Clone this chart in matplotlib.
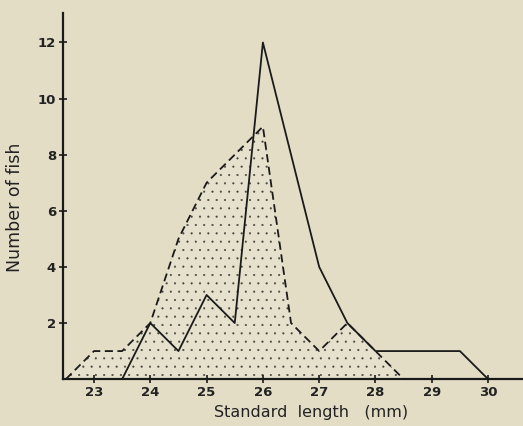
import matplotlib
matplotlib.use("Agg")
import matplotlib.pyplot as plt

# Data
len_dashed = [22.5, 23.0, 23.5, 24.0, 24.5, 25.0, 25.5, 26.0, 26.5, 27.0, 27.5, 28.0, 28.5]
cnt_dashed = [0, 1, 1, 2, 5, 7, 8, 9, 2, 1, 2, 1, 0]

len_solid = [23.5, 24.0, 24.5, 25.0, 25.5, 26.0, 27.0, 27.5, 28.0, 29.0, 29.5, 30.0]
cnt_solid = [0, 2, 1, 3, 2, 12, 4, 2, 1, 1, 1, 0]

x_ticks = [23, 24, 25, 26, 27, 28, 29, 30]
y_ticks = [2, 4, 6, 8, 10, 12]

bg = "#e3ddc6"
ink = "#1a1a1a"

plt.rcParams['hatch.linewidth'] = 0.3
plt.rcParams['hatch.color'] = "#4a463e"

fig = plt.figure(figsize=(5.23, 4.26), dpi=100, facecolor=bg)
ax = fig.add_axes([0.1205, 0.110, 0.8795, 0.8595], facecolor=bg)

ax.fill_between(len_dashed, cnt_dashed, 0, facecolor="#e6e1cc", edgecolor="#4a463e",
                hatch="..", linewidth=0, zorder=1)
ax.plot(len_dashed, cnt_dashed, color=ink, lw=1.3, ls=(0, (4.5, 2.5)), zorder=3)
ax.plot(len_solid, cnt_solid, color=ink, lw=1.3, ls="-", zorder=3)

ax.set_xlim(22.45, 30.62)
ax.set_ylim(0, 13.05)
ax.set_xticks(x_ticks)
ax.set_yticks(y_ticks)
ax.set_xticklabels([str(v) for v in x_ticks], fontsize=9.5, fontweight="bold", color="#222")
ax.set_yticklabels([str(v) for v in y_ticks], fontsize=9.5, fontweight="bold", color="#222")
ax.tick_params(direction="inout", length=6, width=1.2, color=ink, pad=2)

for s in ["top", "right"]:
    ax.spines[s].set_visible(False)
for s in ["left", "bottom"]:
    ax.spines[s].set_linewidth(1.6)
    ax.spines[s].set_color(ink)

ax.set_xlabel("Standard  length   (mm)", fontsize=11.5, color="#222", labelpad=2)
ax.xaxis.set_label_coords(0.54, -0.07)
ax.set_ylabel("Number of fish", fontsize=12.5, color="#222")
ax.yaxis.set_label_coords(-0.085, 0.47)

fig.savefig("out.png", dpi=100, facecolor=bg)
